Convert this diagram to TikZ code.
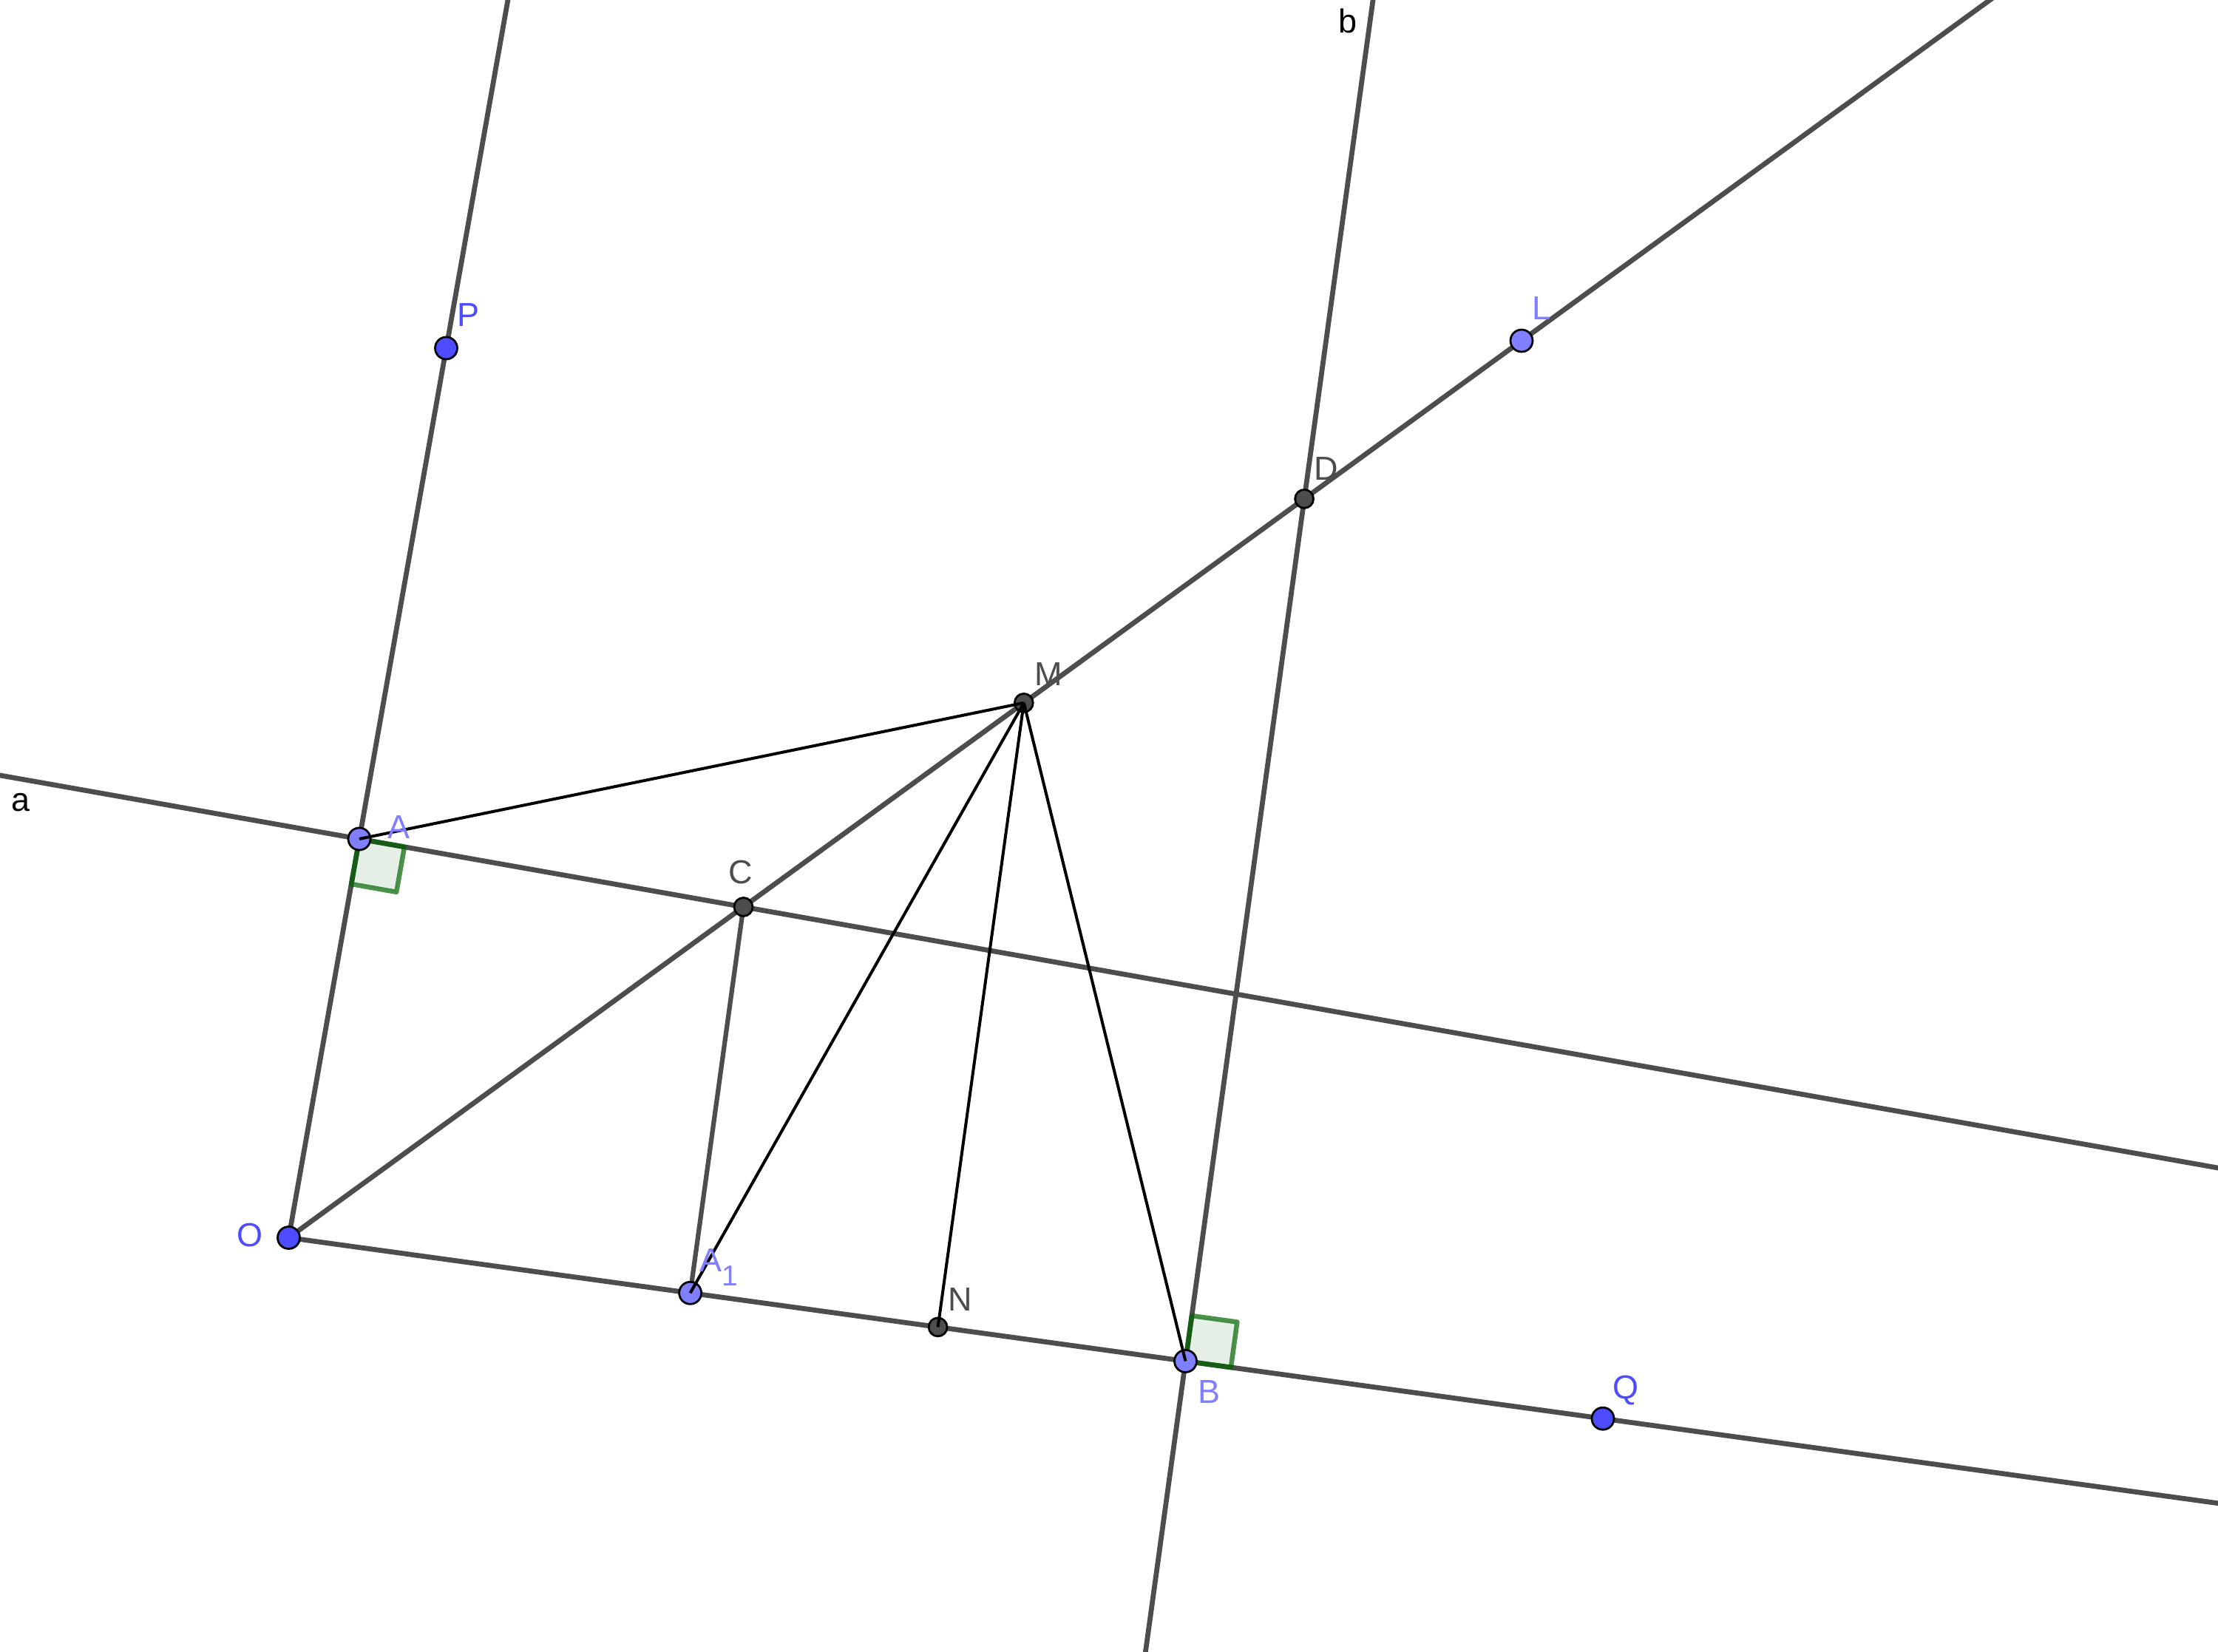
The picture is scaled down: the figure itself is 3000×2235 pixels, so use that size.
\documentclass[tikz,border=0pt]{standalone}
\usepackage{fontspec}
\setmainfont{Liberation Sans}
\usetikzlibrary{calc}

\definecolor{ptfree}{RGB}{77,77,255}
\definecolor{ptpath}{RGB}{127,127,255}
\definecolor{ptdep}{RGB}{77,77,77}
\definecolor{lngray}{RGB}{77,77,77}
\definecolor{angreen}{RGB}{0,100,0}

\tikzset{every picture/.style={line width=0.75pt}}
\tikzset{
  geoline/.style={draw=lngray, line width=1.35pt},
  seg/.style={draw=black, line width=0.8pt},
  rightang/.style={draw=angreen, draw opacity=0.7, fill=angreen, fill opacity=0.1, line width=1.3pt, line join=round},
  dot/.style={circle, draw=black, line width=0.55pt, inner sep=0pt},
  freept/.style={dot, fill=ptfree, minimum size=6pt},
  pathpt/.style={dot, fill=ptpath, minimum size=6pt},
  deppt/.style={dot, fill=ptdep, minimum size=5pt},
  lbl/.style={anchor=base west, inner sep=0pt, font=\fontsize{9}{11}\selectfont},
  lblfree/.style={lbl, text=ptfree},
  lblpath/.style={lbl, text=ptpath},
  lbldep/.style={lbl, text=ptdep},
}

\begin{document}
\begin{tikzpicture}[x=0.2pt,y=0.2pt,yscale=-1,xscale=1]
\useasboundingbox (0,0) rectangle (3000,2235);
\clip (0,0) rectangle (3000,2235);

% Points
\coordinate (O) at (390.5,1674.5);
\coordinate (A) at (486,1135);
\coordinate (P) at (603.5,471);
\coordinate (B) at (1603.5,1841.5);
\coordinate (Q) at (2168,1919.2);
\coordinate (L) at (2058,461);
\coordinate (C) at (1005.5,1227);
\coordinate (D) at (1764.1,674.9);
\coordinate (M) at (1384.8,950.9);
\coordinate (A1) at (933.6,1749.3);
\coordinate (N) at (1268.6,1795.4);
% ends of lines outside the frame
\coordinate (aW) at (-20,1045.4);
\coordinate (aE) at (3020,1583.6);
\coordinate (bN) at (1859.8,-20);
\coordinate (bS) at (1546.6,2255);
\coordinate (OPend) at (690.5,-20);
\coordinate (OQend) at (3020,2036.5);
\coordinate (OLend) at (2718.9,-20);

%Straight Lines
\draw [geoline] (aW) -- (aE);
\draw [geoline] (bN) -- (bS);
\draw [geoline] (O) -- (OPend);
\draw [geoline] (O) -- (OQend);
\draw [geoline] (O) -- (OLend);

% Right angles
\coordinate (ra1) at ($(A)!12.4pt!(C)$);
\coordinate (ra3) at ($(A)!12.4pt!(O)$);
\coordinate (ra2) at ($(ra1)+(ra3)-(A)$);
\draw [rightang] (A) -- (ra1) -- (ra2) -- (ra3) -- cycle;
\coordinate (rb1) at ($(B)!12.4pt!(Q)$);
\coordinate (rb3) at ($(B)!12.4pt!(D)$);
\coordinate (rb2) at ($(rb1)+(rb3)-(B)$);
\draw [rightang] (B) -- (rb1) -- (rb2) -- (rb3) -- cycle;

%Segment C A1
\draw [geoline, line width=1.25pt] (C) -- (A1);

% Point marks
\node [freept] (Odot) at (O) {};
\node [freept] (Pdot) at (P) {};
\node [freept] (Qdot) at (Q) {};
\node [pathpt] (Adot) at (A) {};
\node [pathpt] (Bdot) at (B) {};
\node [pathpt] (Ldot) at (L) {};
\node [pathpt] (A1dot) at (A1) {};
\node [deppt] (Cdot) at (C) {};
\node [deppt] (Ddot) at (D) {};
\node [deppt] (Ndot) at (N) {};
\node [deppt] (Mdot) at (M) {};

%Segments from M
\draw [seg] (M) -- (A);
\draw [seg] (M) -- (A1);
\draw [seg] (M) -- (N);
\draw [seg] (M) -- (B);

% Text Nodes
\node [lblfree] (Olbl) at (319,1686) {O};
\node [lblfree] (Plbl) at (617,441.7) {P};
\node [lblfree] (Qlbl) at (2180,1892) {Q};
\node [lblpath] (Albl) at (523,1135) {A};
\node [lblpath] (Blbl) at (1619,1898) {B};
\node [lblpath] (Llbl) at (2071,432.7) {L};
\node [lblpath] (A1lbl) at (945,1720) {A\raisebox{-3.8pt}{\fontsize{7.8}{9}\selectfont 1}};
\node [lbldep] (Clbl) at (984,1195) {C};
\node [lbldep] (Dlbl) at (1776,650) {D};
\node [lbldep] (Mlbl) at (1398,928) {M};
\node [lbldep] (Nlbl) at (1281,1773) {N};
\node [lbl] (alabel) at (14,1098) {a};
\node [lbl] (blabel) at (1809,45) {b};
\end{tikzpicture}
\end{document}
